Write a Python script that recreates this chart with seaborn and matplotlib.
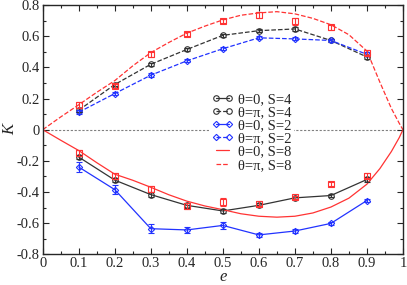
import numpy as np
import pandas as pd
import matplotlib
matplotlib.use("Agg")
import matplotlib.pyplot as plt
import seaborn as sns
from matplotlib.ticker import MultipleLocator, FuncFormatter

# data
e = [0.1, 0.2, 0.3, 0.4, 0.5, 0.6, 0.7, 0.8, 0.9]

k_s4_t0 = [-0.176, -0.324, -0.417, -0.486, -0.522, -0.486, -0.438, -0.423, -0.320]
k_s4_tpi = [0.125, 0.290, 0.420, 0.515, 0.606, 0.636, 0.647, 0.573, 0.467]
k_s2_t0 = [-0.240, -0.385, -0.636, -0.644, -0.615, -0.676, -0.651, -0.602, -0.455]
k_s2_tpi = [0.112, 0.232, 0.350, 0.442, 0.520, 0.590, 0.583, 0.573, 0.484]
k_s8_t0_pts = [-0.149, -0.300, -0.380, -0.492, -0.465, -0.476, -0.434, -0.350, -0.296]
k_s8_tpi_pts = [0.160, 0.280, 0.485, 0.615, 0.700, 0.737, 0.695, 0.657, 0.495]

err_s4_t0 = [0.015, 0.015, 0.015, 0.015, 0.015, 0.012, 0.010, 0.010, 0.015]
err_s4_tpi = [0.012, 0.012, 0.010, 0.010, 0.010, 0.010, 0.010, 0.010, 0.012]
err_s2_t0 = [0.035, 0.030, 0.030, 0.020, 0.020, 0.015, 0.015, 0.012, 0.010]
err_s2_tpi = [0.012, 0.012, 0.012, 0.010, 0.010, 0.010, 0.010, 0.010, 0.012]
err_s8_t0 = [0.020, 0.020, 0.020, 0.020, 0.025, 0.015, 0.010, 0.012, 0.015]
err_s8_tpi = [0.020, 0.015, 0.015, 0.012, 0.012, 0.020, 0.020, 0.015, 0.015]

# S=8 curves
e_curve = [0.0, 0.05, 0.1, 0.15, 0.2, 0.25, 0.3, 0.35, 0.4, 0.45, 0.5, 0.55,
           0.6, 0.65, 0.7, 0.75, 0.8, 0.85, 0.9, 0.936, 0.968, 0.99, 1.0]
k_s8_t0 = [0.0, -0.068, -0.134, -0.212, -0.286, -0.325, -0.370, -0.418, -0.459, -0.490,
           -0.514, -0.540, -0.556, -0.562, -0.556, -0.535, -0.497, -0.440, -0.350,
           -0.250, -0.140, -0.050, 0.0]
k_s8_tpi = [0.0, 0.082, 0.160, 0.240, 0.315, 0.410, 0.495, 0.560, 0.620, 0.665,
            0.705, 0.735, 0.750, 0.758, 0.744, 0.715, 0.674, 0.610, 0.505,
            0.305, 0.136, 0.040, 0.0]

BLACK = '#333333'
BLUE = '#2233ff'
RED = '#ff3333'

sns.set_style("ticks")
plt.rcParams['font.family'] = ['Liberation Serif', 'DejaVu Serif']

fig, ax = plt.subplots(figsize=(4.07, 2.85), dpi=100)

ax.axhline(0, color='gray', ls=(0, (2, 1.5)), lw=0.8, zorder=0)

curves = pd.DataFrame({'e': e_curve, 't0': k_s8_t0, 'tpi': k_s8_tpi})
pts = pd.DataFrame({'e': e, 's4_t0': k_s4_t0, 's4_tpi': k_s4_tpi,
                    's2_t0': k_s2_t0, 's2_tpi': k_s2_tpi})

def mk(c, m, ms):
    return dict(marker=m, markerfacecolor='none', markeredgecolor=c,
                markersize=ms, markeredgewidth=0.8)

sns.lineplot(data=pts, x='e', y='s4_t0', ax=ax, color=BLACK, lw=0.9,
             label='θ=0, S=4', **mk(BLACK, 'o', 4))
sns.lineplot(data=pts, x='e', y='s4_tpi', ax=ax, color=BLACK, lw=0.9, ls='--',
             label='θ=π, S=4', **mk(BLACK, 'o', 4))
sns.lineplot(data=pts, x='e', y='s2_t0', ax=ax, color=BLUE, lw=0.9,
             label='θ=0, S=2', **mk(BLUE, 'D', 3.2))
sns.lineplot(data=pts, x='e', y='s2_tpi', ax=ax, color=BLUE, lw=0.9, ls='--',
             label='θ=π, S=2', **mk(BLUE, 'D', 3.2))
sns.lineplot(data=curves, x='e', y='t0', ax=ax, color=RED, lw=0.9,
             label='θ=0, S=8')
sns.lineplot(data=curves, x='e', y='tpi', ax=ax, color=RED, lw=0.9, ls='--',
             label='θ=π, S=8')

ebk = dict(ls='none', capsize=2.5, elinewidth=0.8, capthick=0.8)
ax.errorbar(e, k_s4_t0, yerr=err_s4_t0, color=BLACK, **ebk)
ax.errorbar(e, k_s4_tpi, yerr=err_s4_tpi, color=BLACK, **ebk)
ax.errorbar(e, k_s2_t0, yerr=err_s2_t0, color=BLUE, **ebk)
ax.errorbar(e, k_s2_tpi, yerr=err_s2_tpi, color=BLUE, **ebk)
ax.errorbar(e, k_s8_t0_pts, yerr=err_s8_t0, color=RED, marker='s',
            mfc='none', ms=4, mew=0.8, **ebk)
ax.errorbar(e, k_s8_tpi_pts, yerr=err_s8_tpi, color=RED, marker='s',
            mfc='none', ms=4, mew=0.8, **ebk)

ax.set_xlim(0, 1)
ax.set_ylim(-0.8, 0.8)
ax.xaxis.set_major_locator(MultipleLocator(0.1))
ax.xaxis.set_minor_locator(MultipleLocator(0.05))
ax.yaxis.set_major_locator(MultipleLocator(0.2))
ax.yaxis.set_minor_locator(MultipleLocator(0.1))
fmt = FuncFormatter(lambda v, p: '%g' % round(v, 2) if abs(v) > 1e-9 else '0')
ax.xaxis.set_major_formatter(fmt)
ax.yaxis.set_major_formatter(fmt)
ax.tick_params(which='both', direction='in', top=True, right=True, labelsize=10.5, width=0.8)
ax.tick_params(which='major', length=4, pad=2)
ax.tick_params(which='minor', length=2)
for s in ax.spines.values():
    s.set_linewidth(1.0)

ax.set_xlabel('e', style='italic', fontsize=12, labelpad=-1)
ax.set_ylabel('K', style='italic', fontsize=12, labelpad=-1)

leg = ax.legend(loc='center left', bbox_to_anchor=(0.44, 0.49), frameon=True,
                fontsize=10.5, handlelength=1.5, handletextpad=0.3, labelspacing=0.0,
                borderpad=0.2, numpoints=2)
leg.get_frame().set_edgecolor('none')
leg.get_frame().set_facecolor('white')
leg.get_frame().set_alpha(1)

fig.subplots_adjust(left=0.105, right=0.99, top=0.982, bottom=0.108)
fig.savefig('out.png', dpi=100)
